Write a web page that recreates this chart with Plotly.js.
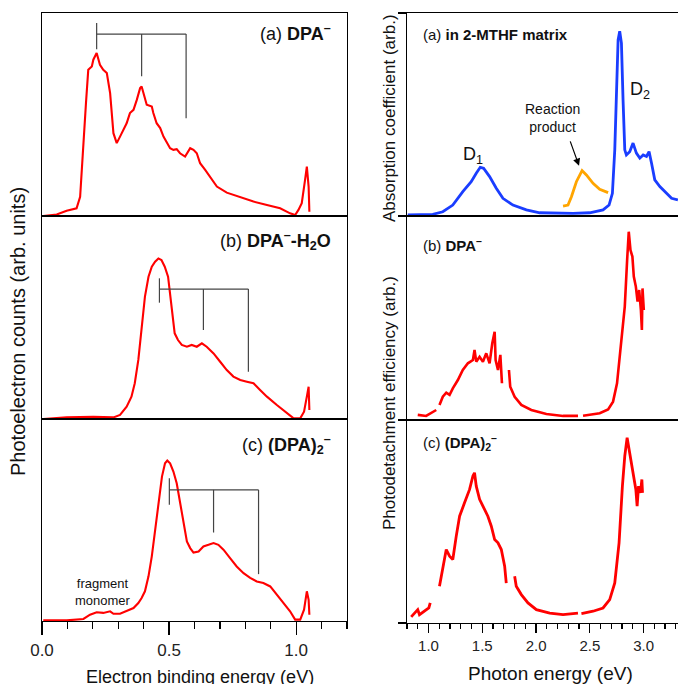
<!DOCTYPE html>
<html><head><meta charset="utf-8">
<script src="https://cdn.plot.ly/plotly-3.0.1.min.js"></script>
<style>body{margin:0;background:#fff}#chart{width:678px;height:684px}</style>
</head><body><div id="chart"></div>
<script>
// ---- Left column: photoelectron spectra (eV, arb.) ----
const dpaX = [0.005,0.058,0.097,0.136,0.150,0.163,0.173,0.182,0.196,0.202,0.215,0.228,0.241,0.255,0.268,0.281,0.294,0.307,0.320,0.333,0.346,0.360,0.373,0.386,0.392,0.399,0.412,0.432,0.438,0.451,0.465,0.478,0.491,0.504,0.517,0.530,0.543,0.563,0.583,0.596,0.609,0.622,0.642,0.661,0.688,0.727,0.753,0.793,0.832,0.885,0.937,0.976,0.996,1.009,1.022,1.035,1.042,1.049,1.052];
const dpaY = [0,0.007,0.026,0.038,0.095,0.326,0.556,0.72,0.737,0.77,0.803,0.745,0.72,0.704,0.605,0.408,0.359,0.391,0.424,0.457,0.507,0.523,0.572,0.63,0.638,0.605,0.548,0.539,0.507,0.457,0.433,0.391,0.359,0.334,0.326,0.329,0.309,0.293,0.334,0.326,0.309,0.26,0.227,0.194,0.145,0.115,0.104,0.087,0.071,0.054,0.038,0.013,0.005,0.03,0.063,0.178,0.243,0.145,0.021];
const waterX = [0.005,0.097,0.202,0.281,0.307,0.333,0.352,0.365,0.379,0.392,0.405,0.419,0.432,0.445,0.458,0.470,0.483,0.496,0.509,0.522,0.535,0.550,0.570,0.589,0.609,0.629,0.648,0.675,0.701,0.727,0.753,0.780,0.806,0.832,0.858,0.885,0.924,0.963,0.990,1.016,1.031,1.042,1.049,1.052];
const waterY = [0,0.008,0.011,0.008,0.02,0.061,0.11,0.176,0.291,0.455,0.603,0.701,0.75,0.775,0.791,0.783,0.75,0.701,0.57,0.422,0.389,0.365,0.356,0.365,0.356,0.373,0.356,0.323,0.282,0.241,0.209,0.192,0.184,0.176,0.143,0.11,0.069,0.028,0.003,0.003,0.036,0.11,0.159,0.044];
const dimerX = [0.005,0.097,0.163,0.189,0.215,0.241,0.268,0.281,0.307,0.333,0.360,0.379,0.392,0.405,0.419,0.432,0.445,0.458,0.472,0.484,0.493,0.504,0.517,0.530,0.543,0.556,0.570,0.583,0.596,0.616,0.635,0.655,0.675,0.694,0.714,0.740,0.766,0.793,0.819,0.845,0.871,0.898,0.924,0.950,0.976,0.996,1.016,1.031,1.042,1.049,1.052];
const dimerY = [0.003,0.003,0.01,0.031,0.043,0.04,0.048,0.036,0.036,0.048,0.064,0.089,0.114,0.147,0.221,0.32,0.451,0.583,0.715,0.781,0.794,0.781,0.74,0.682,0.583,0.484,0.394,0.361,0.339,0.344,0.369,0.377,0.386,0.377,0.353,0.311,0.27,0.237,0.213,0.196,0.188,0.171,0.13,0.089,0.048,0.007,0.007,0.056,0.147,0.105,0.031];

// progression brackets: [x positions], bar level, first tick top/bottom, later tick bottoms
const brA = {x:[0.215,0.392,0.567], bar:0.896, top:0.951, bot:0.822, ends:[0.688,0.482]};
const brB = {x:[0.462,0.635,0.812], bar:0.640, top:0.693, bot:0.573, ends:[0.438,0.233]};
const brC = {x:[0.501,0.675,0.852], bar:0.649, top:0.707, bot:0.575, ends:[0.438,0.232]};

// ---- Right column: absorption / photodetachment (eV, arb.) ----
const absX = [0.807,0.947,1.040,1.133,1.226,1.319,1.397,1.444,1.481,1.512,1.568,1.630,1.692,1.785,1.910,2.034,2.189,2.344,2.499,2.623,2.679,2.710,2.732,2.748,2.763,2.778,2.794,2.809,2.825,2.840,2.871,2.902,2.933,2.965,2.996,3.027,3.051,3.074,3.104,3.151,3.213,3.260,3.319];
const absY = [0.005,0.005,0.008,0.021,0.054,0.12,0.169,0.211,0.24,0.235,0.194,0.137,0.087,0.054,0.03,0.016,0.013,0.013,0.016,0.03,0.054,0.112,0.326,0.655,0.868,0.91,0.852,0.572,0.326,0.301,0.317,0.359,0.31,0.285,0.301,0.293,0.317,0.26,0.178,0.145,0.112,0.087,0.079];
const prodX = [2.251,2.297,2.329,2.375,2.428,2.468,2.530,2.592,2.670];
const prodY = [0.049,0.054,0.095,0.169,0.224,0.202,0.161,0.132,0.115];
const pdMonoX = [0.900,0.978,1.072,null,1.102,1.133,1.165,1.196,1.226,1.273,1.319,1.366,1.413,1.428,1.444,1.475,1.506,1.537,1.568,1.593,1.615,1.624,1.646,1.668,1.683,null,1.748,1.760,1.801,1.863,1.956,2.096,2.251,2.390,null,2.437,2.592,2.670,2.716,2.753,2.794,2.825,2.847,2.862,2.878,2.896,2.909,2.928,2.944,2.959,2.975,2.984,2.990,3.002];
const pdMonoY = [0.025,0.02,0.049,null,0.074,0.114,0.134,0.123,0.155,0.196,0.245,0.278,0.294,0.343,0.286,0.31,0.286,0.327,0.278,0.376,0.433,0.294,0.245,0.319,0.18,null,0.245,0.163,0.114,0.074,0.049,0.029,0.02,0.02,null,0.021,0.033,0.052,0.09,0.18,0.376,0.556,0.784,0.923,0.833,0.801,0.703,0.654,0.58,0.637,0.539,0.441,0.645,0.539];
const pdDimX = [0.839,0.870,0.900,0.916,0.963,1.003,1.016,null,1.102,1.133,1.165,1.196,1.226,1.258,1.289,1.335,1.382,1.413,1.428,1.444,1.475,1.506,1.552,1.584,1.615,1.646,1.677,1.708,1.723,null,1.801,1.816,1.863,1.925,2.003,2.127,2.251,2.390,null,2.422,2.530,2.623,2.685,2.732,2.772,2.803,2.825,2.847,2.865,2.887,2.909,2.928,2.940,2.953,2.971,2.984,2.990];
const pdDimY = [0.03,0.046,0.066,0.041,0.058,0.074,0.099,null,0.181,0.28,0.362,0.329,0.313,0.428,0.526,0.592,0.658,0.724,0.74,0.674,0.609,0.576,0.526,0.477,0.411,0.395,0.362,0.28,0.197,null,0.23,0.181,0.14,0.099,0.066,0.049,0.041,0.049,null,0.046,0.058,0.074,0.115,0.197,0.395,0.674,0.822,0.913,0.855,0.789,0.724,0.658,0.576,0.674,0.641,0.707,0.641];

// tick labels
const leftTicks = [0.0, 0.5, 1.0];
const leftTickText = ['0.0', '0.5', '1.0'];
const rightTicks = [1.0, 1.5, 2.0, 2.5, 3.0];
const rightTickText = ['1.0', '1.5', '2.0', '2.5', '3.0'];

const FONT = 'Liberation Sans, Arial, sans-serif';
const RED = '#ff0000', BLUE = '#1a3dff', ORANGE = '#ffa500';

const traces = [
  {x:dpaX, y:dpaY, xaxis:'x', yaxis:'y', w:2.1},
  {x:waterX, y:waterY, xaxis:'x2', yaxis:'y2', w:2.1},
  {x:dimerX, y:dimerY, xaxis:'x3', yaxis:'y3', w:2.1},
  {x:absX, y:absY, xaxis:'x4', yaxis:'y4', color:BLUE, w:2.8},
  {x:prodX, y:prodY, xaxis:'x4', yaxis:'y4', color:ORANGE, w:2.8},
  {x:pdMonoX, y:pdMonoY, xaxis:'x5', yaxis:'y5', w:2.6},
  {x:pdDimX, y:pdDimY, xaxis:'x6', yaxis:'y6', w:2.8}
].map(t => ({x:t.x, y:t.y, xaxis:t.xaxis, yaxis:t.yaxis, type:'scatter', mode:'lines',
  connectgaps:false, hoverinfo:'skip', line:{color:t.color||RED, width:t.w||2}}));

const H = 684, W = 678;
const py = v => 1 - v / H, px = v => v / W;
const LX = [px(42), px(347)], RX = [px(407), 1];

function frameX(domain, range, opts) {
  return Object.assign({domain, range, showline:true, linecolor:'#000', linewidth:1.2, mirror:true,
    showgrid:false, zeroline:false, ticks:'', showticklabels:false, fixedrange:true}, opts||{});
}
function frameY(domain, mirror, opts) {
  return Object.assign({domain, range:[0,1], showline:true, linecolor:'#000', linewidth:1.2, mirror,
    showgrid:false, zeroline:false, ticks:'', showticklabels:false, fixedrange:true}, opts||{});
}
const ryTicks = {ticks:'outside', tickvals:[0,1], ticklen:8, tickcolor:'#000', tickwidth:1.2};

const layout = {
  width:W, height:H, margin:{l:0,r:0,t:0,b:0}, showlegend:false,
  paper_bgcolor:'#fff', plot_bgcolor:'#fff', font:{family:FONT, color:'#000'},
  xaxis: frameX(LX, [0,1.2], {anchor:'y'}),
  yaxis: frameY([py(216), py(13)], true, {anchor:'x'}),
  xaxis2: frameX(LX, [0,1.2], {anchor:'y2'}),
  yaxis2: frameY([py(419), py(216)], true, {anchor:'x2'}),
  xaxis3: frameX(LX, [0,1.2], {anchor:'y3', ticks:'outside', tickvals:leftTicks, ticktext:leftTickText,
    showticklabels:true, ticklen:13, tickwidth:1.2, tickcolor:'#000', tickfont:{size:17, color:'#222'},
    minor:{ticks:'outside', dtick:0.1, tick0:0, ticklen:7, tickwidth:1.2, tickcolor:'#000'}}),
  yaxis3: frameY([py(621), py(419)], true, {anchor:'x3'}),
  xaxis4: frameX(RX, [0.8,3.32], {anchor:'y4'}),
  yaxis4: frameY([py(216), py(13)], false, Object.assign({anchor:'x4'}, ryTicks)),
  xaxis5: frameX(RX, [0.8,3.32], {anchor:'y5'}),
  yaxis5: frameY([py(420), py(216)], false, Object.assign({anchor:'x5'}, ryTicks)),
  xaxis6: frameX(RX, [0.8,3.32], {anchor:'y6', ticks:'outside', tickvals:rightTicks, ticktext:rightTickText,
    showticklabels:true, ticklen:9, tickwidth:1.2, tickcolor:'#000', tickfont:{size:15, color:'#222'},
    minor:{ticks:'outside', dtick:0.1, tick0:0, ticklen:5, tickwidth:1.2, tickcolor:'#000'}}),
  yaxis6: frameY([py(623), py(420)], false, Object.assign({anchor:'x6'}, ryTicks)),
  shapes: [], annotations: []
};

function bracket(br, xr, yr) {
  const s = (x0,y0,x1,y1) => ({type:'line', xref:xr, yref:yr, x0, y0, x1, y1, line:{color:'#444', width:1.2}});
  layout.shapes.push(s(br.x[0], br.bot, br.x[0], br.top));
  layout.shapes.push(s(br.x[0], br.bar, br.x[2], br.bar));
  layout.shapes.push(s(br.x[1], br.bar, br.x[1], br.ends[0]));
  layout.shapes.push(s(br.x[2], br.bar, br.x[2], br.ends[1]));
}
bracket(brA, 'x', 'y'); bracket(brB, 'x2', 'y2'); bracket(brC, 'x3', 'y3');

const ann = (o) => layout.annotations.push(Object.assign({showarrow:false, font:{family:FONT, size:17, color:'#111'}}, o));
// panel labels
ann({xref:'x', yref:'y', x:1.146, y:0.903, xanchor:'right', yanchor:'middle', text:'(a) <b>DPA<sup>–</sup></b>', font:{family:FONT,size:18,color:'#111'}});
ann({xref:'x2', yref:'y2', x:1.146, y:0.880, xanchor:'right', yanchor:'middle', text:'(b) <b>DPA<sup>–</sup>-H<sub>2</sub>O</b>', font:{family:FONT,size:18,color:'#111'}});
ann({xref:'x3', yref:'y3', x:1.146, y:0.875, xanchor:'right', yanchor:'middle', text:'(c) <b>(DPA)<sub>2</sub><sup>–</sup></b>', font:{family:FONT,size:18,color:'#111'}});
ann({xref:'x3', yref:'y3', x:0.239, y:0.145, xanchor:'center', yanchor:'middle', text:'fragment<br>monomer', font:{family:FONT,size:13,color:'#111'}});
ann({xref:'x4', yref:'y4', x:0.926, y:0.896, xanchor:'left', yanchor:'middle', text:'(a) <b>in 2-MTHF matrix</b>', font:{family:FONT,size:15,color:'#111'}});
ann({xref:'x5', yref:'y5', x:0.926, y:0.858, xanchor:'left', yanchor:'middle', text:'(b) <b>DPA<sup>–</sup></b>', font:{family:FONT,size:15,color:'#111'}});
ann({xref:'x6', yref:'y6', x:0.926, y:0.890, xanchor:'left', yanchor:'middle', text:'(c) <b>(DPA)<sub>2</sub><sup>–</sup></b>', font:{family:FONT,size:15,color:'#111'}});
ann({xref:'x4', yref:'y4', x:1.413, y:0.300, xanchor:'center', yanchor:'middle', text:'D<sub>1</sub>', font:{family:FONT,size:18,color:'#111'}});
ann({xref:'x4', yref:'y4', x:2.965, y:0.620, xanchor:'center', yanchor:'middle', text:'D<sub>2</sub>', font:{family:FONT,size:18,color:'#111'}});
ann({xref:'x4', yref:'y4', x:2.157, y:0.485, xanchor:'center', yanchor:'middle', text:'Reaction<br>product', font:{family:FONT,size:14,color:'#111'}});
layout.annotations.push({xref:'x4', yref:'y4', x:2.40, y:0.247, axref:'x4', ayref:'y4', ax:2.313, ay:0.375,
  text:'', showarrow:true, arrowhead:2, arrowsize:1.2, arrowwidth:1.2, arrowcolor:'#000'});
// axis titles
ann({xref:'paper', yref:'paper', x:px(18), y:py(332), textangle:-90, xanchor:'center', yanchor:'middle', text:'Photoelectron counts (arb. units)', font:{family:FONT,size:20,color:'#111'}});
ann({xref:'paper', yref:'paper', x:px(389), y:py(118), textangle:-90, xanchor:'center', yanchor:'middle', text:'Absorption coefficient (arb.)', font:{family:FONT,size:17,color:'#111'}});
ann({xref:'paper', yref:'paper', x:px(389), y:py(403), textangle:-90, xanchor:'center', yanchor:'middle', text:'Photodetachment efficiency (arb.)', font:{family:FONT,size:17,color:'#111'}});
ann({xref:'paper', yref:'paper', x:px(200), y:py(665), xanchor:'center', yanchor:'top', text:'Electron binding energy (eV)', font:{family:FONT,size:18,color:'#111'}});
ann({xref:'paper', yref:'paper', x:px(550), y:py(661), xanchor:'center', yanchor:'top', text:'Photon energy (eV)', font:{family:FONT,size:19,color:'#111'}});

Plotly.newPlot('chart', traces, layout, {staticPlot:true, displayModeBar:false});
</script>
</body></html>
